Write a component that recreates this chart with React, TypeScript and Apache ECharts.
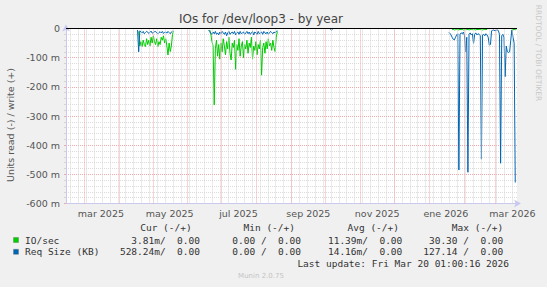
import React, { useEffect, useRef } from "react";
import * as echarts from "echarts";

// ---- data (values in raw units; read side plotted negative) ----
const X_START = "2025-02-13T01:00:16Z";
const X_END = "2026-03-20T01:00:16Z";

const xTickDates = ["2025-03-16", "2025-05-16", "2025-07-16", "2025-09-16", "2025-11-16", "2026-01-16", "2026-03-16"];
const xTickLabels = ["mar 2025", "may 2025", "jul 2025", "sep 2025", "nov 2025", "ene 2026", "mar 2026"];

// segment A (one value per day from the start date), in milli-units
const segAStartIO = "2025-04-18";
const ioA = [-10, -60, -45, -62, -40, -55, -62, -35, -55, -40, -60, -30, -50, -25, -45, -55, -35, -62, -45, -55, -30, -40, -25, -50, -35, -60, -91, -50, -79, -60, -20, -8];
const segAStartReq = "2025-04-17";
const reqA = [-5, -80, -8, -12, -15, -10, -18, -14, -10, -12, -17, -13, -9, -16, -14, -11, -10, -15, -18, -14, -11, -15, -10, -17, -13, -12, -16, -10, -14, -18, -12, -9];

// segment B
const segBStartIO = "2025-06-20";
const ioB = [-5, -20, -45, -60, -262, -70, -40, -95, -55, -105, -50, -80, -35, -60, -90, -45, -70, -30, -85, -108, -50, -65, -40, -140, -55, -75, -35, -95, -60, -45, -100, -55, -70, -40, -85, -50, -65, -30, -105, -60, -75, -45, -90, -55, -70, -40, -160, -65, -50, -85, -45, -70, -35, -60, -50, -75, -40, -65, -79, -30, -10];
const segBStartReq = "2025-06-19";
const reqB = [-5, -10, -17, -20, -12, -18, -10, -20, -15, -22, -12, -18, -10, -15, -20, -12, -25, -15, -10, -20, -15, -12, -18, -10, -22, -15, -12, -20, -10, -18, -15, -12, -20, -15, -10, -18, -12, -20, -15, -10, -22, -12, -15, -20, -10, -18, -15, -12, -20, -10, -15, -18, -12, -20, -15, -10, -14, -18, -12, -15, -10, -8];

// small blip
const segCStartReq = "2025-10-05";
const reqC = [-3, -6, -3];

// segment D (right)
const segDStartIO = "2026-01-21";
const ioD = [-4, -3, -5, -4, -3, -4, -5, -3, -4, -3, -5, -4, -3, -4, -3, -5, -4, -3, -4, -3, -4, -5, -3, -4, -3, -4, -3, -5, -4, -3, -4, -3];
const segEStartIO = "2026-03-15";
const ioE = [-4, -5, -3, -4, -3.81];
const segDStartReq = "2026-01-18";
const reqD = [-14, -16, -22, -30, -37, -39, -30, -22, -18, -485, -20, -15, -18, -12, -25, -80, -30, -493, -20, -15, -22, -18, -51, -20, -15, -22, -18, -20, -25, -448, -22, -20, -25, -18, -22, -30, -57, -55, -8, -6, -5, -8, -6, -5, -7, -20, -462, -25, -20, -30, -165, -60, -80, -82, -80, -40, -5, -30, -50, -528];

// legend table
const legendRows = [
  { name: "IO/sec", color: "#00cc00", cur: "3.81m/  0.00", min: "0.00 /  0.00", avg: "11.39m/  0.00", max: "30.30 /  0.00" },
  { name: "Req Size (KB)", color: "#0066b3", cur: "528.24m/  0.00", min: "0.00 /  0.00", avg: "14.16m/  0.00", max: "127.14 /  0.00" },
];
const legendHeaders = ["Cur (-/+)", "Min (-/+)", "Avg (-/+)", "Max (-/+)"];

const DAY = 86400000;
function seg(start: string, vals: (number | null)[]) {
  const t0 = Date.parse(start + "T12:00:00Z");
  const out: any[] = vals.map((v, i) => [t0 + i * DAY, v == null ? null : v / 1000]);
  out.push([t0 + vals.length * DAY, null]);
  return out;
}

export default function App() {
  const ref = useRef<HTMLDivElement>(null);
  useEffect(() => {
    if (!ref.current) return;
    const chart = echarts.init(ref.current, undefined, { renderer: "svg" });
    const xMin = Date.parse(X_START);
    const xMax = Date.parse(X_END);

    const vLines: any[] = [];
    let t = Date.parse("2025-02-17T00:00:00Z");
    while (t < xMax) {
      vLines.push({ xAxis: t, lineStyle: { color: "#d4d4d4", type: [1, 1], width: 1 } });
      t += 7 * DAY;
    }
    for (let y = 2025; y <= 2026; y++) {
      for (let m = 0; m < 12; m++) {
        const ms = Date.UTC(y, m, 1);
        if (ms > xMin && ms < xMax) vLines.push({ xAxis: ms, lineStyle: { color: "#f0a8a8", type: [1, 1], width: 1 } });
      }
    }

    const tickTimes = xTickDates.map((d) => Date.parse(d + "T00:00:00Z"));
    const fmtY = (v: number) => (Math.abs(v) < 1e-9 ? "0" : `${Math.round(v * 1000)} m`);

    const graphics: any[] = [
      { type: "text", x: 261, y: 19, style: { text: "IOs for /dev/loop3 - by year", font: '12px "DejaVu Sans"', fill: "#444", textAlign: "center", textVerticalAlign: "middle" } },
      { type: "text", x: 10, y: 125, rotation: Math.PI / 2, style: { text: "Units read (-) / write (+)", font: '9.5px "DejaVu Sans"', fill: "#555", textAlign: "center", textVerticalAlign: "middle" } },
      { type: "text", x: 538, y: 53, rotation: -Math.PI / 2, style: { text: "RRDTOOL / TOBI OETIKER", font: '7.5px "DejaVu Sans"', fill: "#c8c8c8", textAlign: "center", textVerticalAlign: "middle" } },
      { type: "text", x: 261, y: 276, style: { text: "Munin 2.0.75", font: '7px "DejaVu Sans"', fill: "#c4c4c4", textAlign: "center", textVerticalAlign: "middle" } },
      { type: "text", x: 509, y: 263.5, style: { text: "Last update: Fri Mar 20 01:00:16 2026", font: '9.5px "DejaVu Sans Mono"', fill: "#333", textAlign: "right", textVerticalAlign: "middle" } },
    ];
    const headerRight = [191.7, 295, 399, 503.3];
    legendHeaders.forEach((h, i) => {
      graphics.push({ type: "text", x: headerRight[i], y: 227.5, style: { text: h, font: '9.5px "DejaVu Sans Mono"', fill: "#333", textAlign: "right", textVerticalAlign: "middle" } });
    });
    const valRight = [200, 301, 402.3, 503.3];
    legendRows.forEach((r, k) => {
      const y = 240 + k * 11.8;
      graphics.push({ type: "rect", shape: { x: 13.5, y: y - 2.5, width: 5, height: 5 }, style: { fill: r.color, stroke: "#555", lineWidth: 0.3 } });
      graphics.push({ type: "text", x: 25, y, style: { text: r.name, font: '9.5px "DejaVu Sans Mono"', fill: "#333", textAlign: "left", textVerticalAlign: "middle" } });
      [r.cur, r.min, r.avg, r.max].forEach((v, i) => {
        graphics.push({ type: "text", x: valRight[i], y, style: { text: v, font: '9.5px "DejaVu Sans Mono"', fill: "#333", textAlign: "right", textVerticalAlign: "middle" } });
      });
    });

    const lineSeries = (name: string, color: string, data: any[]) => ({
      name,
      type: "line",
      data,
      showSymbol: false,
      connectNulls: false,
      lineStyle: { color, width: 1 },
      itemStyle: { color },
      z: 3,
    });

    chart.setOption({
      animation: false,
      backgroundColor: "#f0f0f0",
      grid: { left: 66, top: 28.5, width: 451, height: 175, backgroundColor: "#ffffff", show: true, borderWidth: 0 },
      xAxis: {
        type: "value",
        min: xMin,
        max: xMax,
        axisLine: { show: true, onZero: false, lineStyle: { color: "#c8c8f0", width: 1 }, symbol: ["none", "arrow"], symbolSize: [6, 7], symbolOffset: [0, 4] },
        axisTick: { show: false },
        splitLine: { show: false },
        axisLabel: {
          customValues: tickTimes,
          formatter: (v: number) => {
            const i = tickTimes.findIndex((tt) => Math.abs(tt - v) < DAY / 2);
            return i >= 0 ? xTickLabels[i] : "";
          },
          color: "#555",
          fontFamily: "DejaVu Sans",
          fontSize: 9.5,
          margin: 5,
          showMinLabel: true,
          showMaxLabel: true,
        },
      },
      yAxis: {
        type: "value",
        min: -0.6,
        max: 0,
        interval: 0.1,
        axisLine: { show: true, lineStyle: { color: "#c8c8f0", width: 1 }, symbol: ["none", "arrow"], symbolSize: [6, 7], symbolOffset: [0, 4] },
        axisTick: { show: true, length: 2, lineStyle: { color: "#f0a8a8" } },
        minorTick: { show: true, splitNumber: 5, length: 2, lineStyle: { color: "#d4d4d4" } },
        splitLine: { show: true, lineStyle: { color: "#f0a8a8", type: [1, 1], width: 1 } },
        minorSplitLine: { show: true, lineStyle: { color: "#dcdcdc", type: [1, 1], width: 1 } },
        axisLabel: { formatter: fmtY, color: "#555", fontFamily: "DejaVu Sans", fontSize: 9.5, margin: 6 },
      },
      series: [
        {
          type: "line",
          data: [],
          silent: true,
          z: 1,
          markLine: { silent: true, symbol: ["none", "none"], label: { show: false }, animation: false, data: vLines },
        },
        lineSeries("IO/sec", "#00cc00", [...seg(segAStartIO, ioA), ...seg(segBStartIO, ioB), ...seg(segDStartIO, ioD), ...seg(segEStartIO, ioE)]),
        lineSeries("Req Size (KB)", "#0066b3", [...seg(segAStartReq, reqA), ...seg(segBStartReq, reqB), ...seg(segCStartReq, reqC), ...seg(segDStartReq, reqD)]),
        {
          type: "line",
          data: [],
          silent: true,
          z: 4,
          markLine: { silent: true, symbol: ["none", "none"], label: { show: false }, animation: false, data: [{ yAxis: 0, lineStyle: { color: "#000", type: "solid", width: 1 } }] },
        },
      ],
      graphic: graphics,
    });
    return () => chart.dispose();
  }, []);
  return <div ref={ref} style={{ position: "fixed", left: 0, top: 0, width: 547, height: 287 }} />;
}
